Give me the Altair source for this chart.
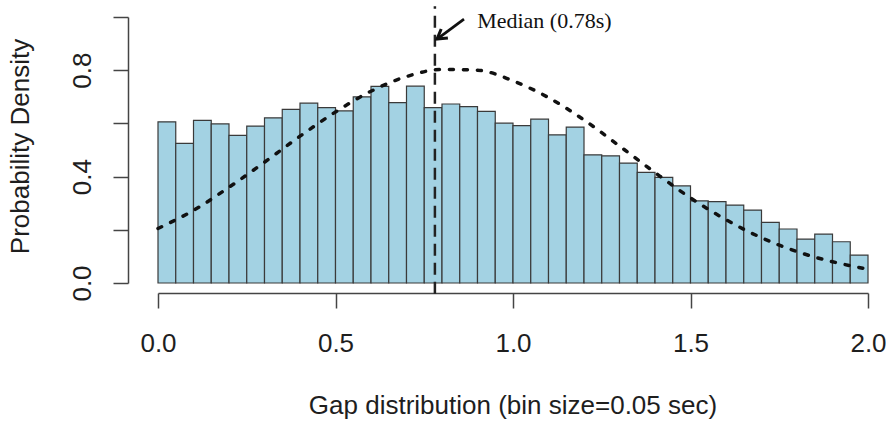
import altair as alt
import pandas as pd

# ---- data ----
bin_start = [0.00, 0.05, 0.10, 0.15, 0.20, 0.25, 0.30, 0.35, 0.40, 0.45,
             0.50, 0.55, 0.60, 0.65, 0.70, 0.75, 0.80, 0.85, 0.90, 0.95,
             1.00, 1.05, 1.10, 1.15, 1.20, 1.25, 1.30, 1.35, 1.40, 1.45,
             1.50, 1.55, 1.60, 1.65, 1.70, 1.75, 1.80, 1.85, 1.90, 1.95]
bin_end = [0.05, 0.10, 0.15, 0.20, 0.25, 0.30, 0.35, 0.40, 0.45, 0.50,
           0.55, 0.60, 0.65, 0.70, 0.75, 0.80, 0.85, 0.90, 0.95, 1.00,
           1.05, 1.10, 1.15, 1.20, 1.25, 1.30, 1.35, 1.40, 1.45, 1.50,
           1.55, 1.60, 1.65, 1.70, 1.75, 1.80, 1.85, 1.90, 1.95, 2.00]
density = [0.606, 0.525, 0.611, 0.598, 0.555, 0.590, 0.621, 0.653, 0.676, 0.659,
           0.647, 0.700, 0.739, 0.678, 0.740, 0.659, 0.673, 0.663, 0.645, 0.601,
           0.592, 0.616, 0.557, 0.586, 0.482, 0.478, 0.451, 0.416, 0.397, 0.365,
           0.309, 0.306, 0.293, 0.274, 0.228, 0.203, 0.165, 0.184, 0.155, 0.105]

curve_x = [0.0, 0.1, 0.2, 0.3, 0.4, 0.5, 0.6, 0.7, 0.8, 0.9, 1.0,
           1.1, 1.2, 1.3, 1.4, 1.5, 1.6, 1.7, 1.8, 1.9, 2.0]
curve_y = [0.205, 0.273, 0.360, 0.454, 0.552, 0.643, 0.721, 0.776, 0.803, 0.800, 0.760,
           0.697, 0.613, 0.515, 0.415, 0.320, 0.238, 0.170, 0.118, 0.080, 0.052]

median_value = [0.78]
median_label = ["Median (0.78s)"]
arrow_from = [0.862, 0.992]
arrow_to = [0.786, 0.917]
label_pos = [0.899, 0.959]

x_ticks = [0.0, 0.5, 1.0, 1.5, 2.0]
y_ticks = [0.0, 0.2, 0.4, 0.6, 0.8, 1.0]
x_title = "Gap distribution (bin size=0.05 sec)"
y_title = "Probability Density"

FONT = "Liberation Sans"
TXT = "#1e1e1e"
AX = "#444444"

bars_df = pd.DataFrame({"start": bin_start, "end": bin_end, "density": density})
curve_df = pd.DataFrame({"x": curve_x, "y": curve_y})
median_df = pd.DataFrame({"m": median_value})
arrow_df = pd.DataFrame({"x": [arrow_from[0]], "y": [arrow_from[1]],
                         "x2": [arrow_to[0]], "y2": [arrow_to[1]]})
head_df = pd.DataFrame({"x": [arrow_to[0]], "y": [arrow_to[1]]})
label_df = pd.DataFrame({"x": [label_pos[0]], "y": [label_pos[1]], "t": median_label})

x_scale = alt.Scale(domain=[0, 2], nice=False, zero=False)
y_scale = alt.Scale(domain=[0, 1], nice=False)

x_axis = alt.Axis(
    values=x_ticks, format=".1f", offset=10, tickSize=15, labelPadding=22,
    labelFont=FONT, labelFontSize=26, labelColor=TXT, labelFlush=False, labelOverlap=False,
    title=x_title, titleFont=FONT, titleFontSize=26, titleFontWeight="normal", titleColor=TXT,
    titleX=354.5, titleY=120, titleAlign="center", titleBaseline="alphabetic",
    domainColor=AX, tickColor=AX, domainWidth=1.5, tickWidth=1.5, grid=False,
)
y_axis = alt.Axis(
    values=y_ticks, offset=30, tickSize=15, labelPadding=23,
    labelAngle=270, labelAlign="center", labelBaseline="alphabetic",
    labelExpr="(abs(datum.value) < 1e-6 || abs(datum.value - 0.4) < 1e-6 || abs(datum.value - 0.8) < 1e-6) ? format(datum.value, '.1f') : ''",
    labelFont=FONT, labelFontSize=26, labelColor=TXT, labelFlush=False, labelOverlap=False,
    title=y_title, titleFont=FONT, titleFontSize=26, titleFontWeight="normal", titleColor=TXT,
    titleAngle=270, titleX=-100, titleY=129, titleAlign="center", titleBaseline="alphabetic",
    domainColor=AX, tickColor=AX, domainWidth=1.5, tickWidth=1.5, grid=False,
)

bars = alt.Chart(bars_df).mark_bar(
    fill="#A3D2E3", stroke="#3a3a3a", strokeWidth=1.2
).encode(
    x=alt.X("start:Q", scale=x_scale, axis=x_axis),
    x2="end:Q",
    y=alt.Y("density:Q", scale=y_scale, axis=y_axis),
    y2=alt.datum(0),
)

curve = alt.Chart(curve_df).mark_line(
    interpolate="monotone", strokeDash=[4, 10], strokeCap="round",
    strokeWidth=3.5, color="#111111"
).encode(x="x:Q", y="y:Q")

median = alt.Chart(median_df).mark_rule(
    strokeDash=[12, 7], strokeWidth=2.5, color="#222222"
).encode(x="m:Q", y=alt.datum(-0.04), y2=alt.datum(1.04))

arrow_line = alt.Chart(arrow_df).mark_rule(
    strokeWidth=2.8, color="#111111"
).encode(x="x:Q", y="y:Q", x2="x2:Q", y2="y2:Q")

arrow_head = alt.Chart(head_df).mark_point(
    shape="M -1 -0.6 L 0 0 L -1 0.6", filled=False, strokeWidth=3,
    size=350, angle=143.4, color="#111111", opacity=1
).encode(x="x:Q", y="y:Q")

label = alt.Chart(label_df).mark_text(
    align="left", baseline="alphabetic", font="Liberation Serif",
    fontSize=22, color="#111111"
).encode(x="x:Q", y="y:Q", text="t:N")

chart = alt.layer(bars, curve, median, arrow_line, arrow_head, label).properties(
    width=710, height=266,
    padding={"left": 158, "top": 17, "right": 18, "bottom": 138},
    autosize=alt.AutoSizeParams(type="none"),
    background="white",
).configure_view(stroke=None)

chart.save("out.html", embed_options={"renderer": "svg", "actions": False})
